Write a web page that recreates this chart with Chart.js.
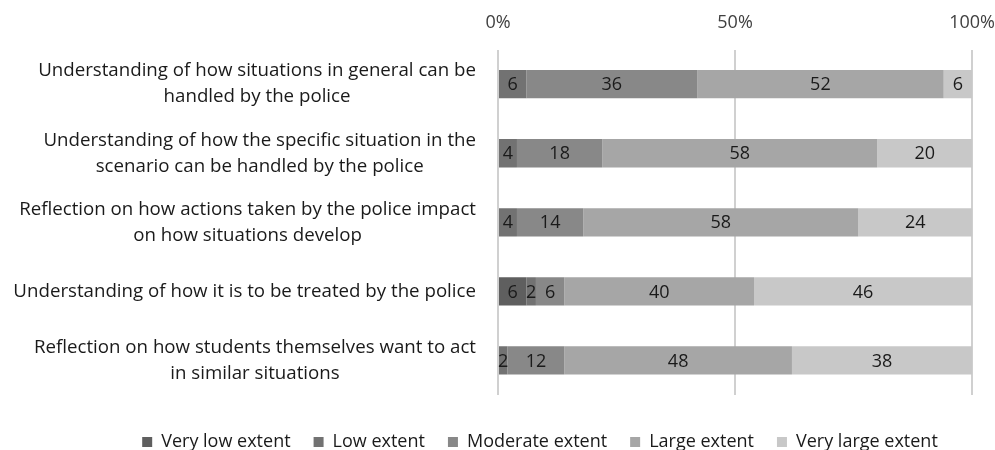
<!DOCTYPE html>
<html>
<head>
<meta charset="utf-8">
<script src="https://cdn.jsdelivr.net/npm/chart.js@4"></script>
<style>
  html, body { margin: 0; padding: 0; background: #fff; }
  #wrap { width: 995px; height: 450px; }
</style>
</head>
<body>
<div id="wrap"><canvas id="myChart"></canvas></div>
<script>
const categories = [
  ['Understanding of how situations in general can be', 'handled by the police'],
  ['Understanding of how the specific situation in the', 'scenario can be handled by the police'],
  ['Reflection on how actions taken by the police impact', 'on how situations develop'],
  'Understanding of how it is to be treated by the police',
  ['Reflection on how students themselves want to act', 'in similar situations']
]
const seriesNames = ['Very low extent', 'Low extent', 'Moderate extent', 'Large extent', 'Very large extent']
const veryLow = [0, 0, 0, 6, 0]
const low = [6, 4, 4, 2, 2]
const moderate = [36, 18, 14, 6, 12]
const large = [52, 58, 58, 40, 48]
const veryLarge = [6, 20, 24, 46, 38]
const tickValues = [0, 50, 100]

const colors = ['#5f5f5f', '#727272', '#888888', '#a6a6a6', '#c8c8c8']
const fontFamily = '"Open Sans", sans-serif'

// draws the value in the middle of each segment
const segmentLabels = {
  id: 'segmentLabels',
  afterDatasetsDraw(chart) {
    const ctx = chart.ctx
    ctx.save()
    ctx.font = '18px ' + fontFamily
    ctx.fillStyle = '#1a1a1a'
    ctx.textAlign = 'center'
    ctx.textBaseline = 'middle'
    chart.data.datasets.forEach(function(ds, i) {
      chart.getDatasetMeta(i).data.forEach(function(bar, j) {
        let v = ds.data[j]
        if (!v) return
        let c = bar.getCenterPoint()
        ctx.fillText(String(v), c.x, c.y + 1)
      })
    })
    ctx.restore()
  }
}

// category labels: each block right aligned, lines centred inside the block
const categoryLabels = {
  id: 'categoryLabels',
  afterDraw(chart) {
    const ctx = chart.ctx
    const scale = chart.scales.y
    const lineH = 26
    ctx.save()
    ctx.font = '18.7px ' + fontFamily
    ctx.fillStyle = '#1a1a1a'
    ctx.textAlign = 'center'
    ctx.textBaseline = 'middle'
    chart.data.labels.forEach(function(label, i) {
      let lines = Array.isArray(label) ? label : [label]
      let w = Math.max.apply(Math, lines.map(function(l) { return ctx.measureText(l).width }))
      let cx = chart.chartArea.left - 22 - w / 2
      let y0 = scale.getPixelForTick(i) - (lines.length - 1) * lineH / 2
      lines.forEach(function(l, k) { ctx.fillText(l, cx, y0 + k * lineH) })
    })
    ctx.restore()
  }
}

const allSeries = [veryLow, low, moderate, large, veryLarge]

new Chart(document.getElementById('myChart').getContext('2d'), {
  type: 'bar',
  data: {
    labels: categories,
    datasets: allSeries.map(function(d, i) {
      return {
        label: seriesNames[i],
        data: d,
        backgroundColor: colors[i],
        borderWidth: 0,
        barPercentage: 0.41,
        categoryPercentage: 1
      }
    })
  },
  plugins: [segmentLabels, categoryLabels],
  options: {
    indexAxis: 'y',
    responsive: true,
    maintainAspectRatio: false,
    animation: false,
    layout: { padding: { top: 12, right: 5, bottom: -11, left: 90 } },
    scales: {
      x: {
        position: 'top',
        stacked: true,
        min: 0,
        max: 100,
        afterBuildTicks: function(scale) {
          scale.ticks = tickValues.map(function(v) { return { value: v } })
        },
        ticks: {
          callback: function(v) { return v + '%' },
          color: '#404040',
          font: { family: fontFamily, size: 18 },
          padding: 0
        },
        grid: { color: '#d0d0d0', lineWidth: 2, drawTicks: true, tickLength: 16, tickColor: 'rgba(0,0,0,0)' },
        border: { display: false }
      },
      // empty axis that only keeps a gap above the legend
      gap: {
        axis: 'x',
        position: 'bottom',
        min: 0,
        max: 100,
        afterFit: function(scale) { scale.height = 15 },
        ticks: { display: false },
        grid: { display: false, drawTicks: false },
        border: { display: false }
      },
      y: {
        stacked: true,
        afterFit: function(scale) { scale.width = 408 },
        ticks: { display: false },
        grid: { display: false, drawTicks: false },
        border: { display: false }
      }
    },
    plugins: {
      legend: {
        position: 'bottom',
        labels: {
          boxWidth: 10,
          boxHeight: 10,
          padding: 23,
          color: '#1a1a1a',
          font: { family: fontFamily, size: 18 }
        }
      },
      tooltip: { enabled: false }
    }
  }
})
</script>
</body>
</html>
